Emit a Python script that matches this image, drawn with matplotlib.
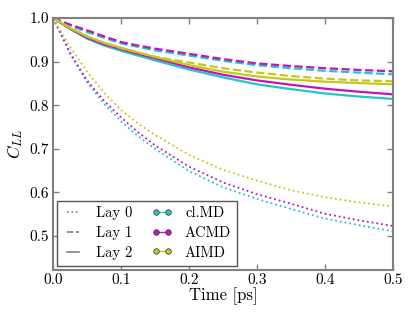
import matplotlib
matplotlib.use("Agg")

import matplotlib.pyplot as plt
from matplotlib.lines import Line2D

plt.rcParams["font.family"] = ["cmr10", "DejaVu Serif"]
plt.rcParams["mathtext.fontset"] = "cm"
plt.rcParams["axes.formatter.use_mathtext"] = True

# time grid [ps]
time = [0.0, 0.025, 0.05, 0.075, 0.1, 0.125, 0.15, 0.2, 0.25, 0.3, 0.35, 0.4, 0.45, 0.5]

# Lay 0 (dotted)
clmd_lay0 = [1.0, 0.918, 0.852, 0.803, 0.763, 0.729, 0.700, 0.649, 0.612, 0.585, 0.562, 0.540, 0.525, 0.511]
acmd_lay0 = [1.0, 0.920, 0.857, 0.810, 0.772, 0.738, 0.708, 0.659, 0.623, 0.596, 0.574, 0.551, 0.536, 0.523]
aimd_lay0 = [1.0, 0.934, 0.877, 0.829, 0.789, 0.758, 0.732, 0.686, 0.652, 0.627, 0.605, 0.589, 0.577, 0.568]

# Lay 1 (dashed)
clmd_lay1 = [1.0, 0.983, 0.968, 0.955, 0.942, 0.934, 0.926, 0.914, 0.902, 0.892, 0.885, 0.879, 0.875, 0.871]
acmd_lay1 = [1.0, 0.985, 0.972, 0.958, 0.945, 0.937, 0.930, 0.918, 0.906, 0.896, 0.890, 0.885, 0.881, 0.878]
aimd_lay1 = [1.0, 0.978, 0.958, 0.943, 0.931, 0.921, 0.911, 0.898, 0.885, 0.875, 0.867, 0.861, 0.857, 0.855]

# Lay 2 (solid)
clmd_lay2 = [1.0, 0.975, 0.953, 0.937, 0.925, 0.914, 0.903, 0.882, 0.864, 0.848, 0.837, 0.827, 0.820, 0.8145]
acmd_lay2 = [1.0, 0.976, 0.955, 0.940, 0.929, 0.918, 0.908, 0.887, 0.870, 0.857, 0.847, 0.838, 0.831, 0.825]
aimd_lay2 = [1.0, 0.977, 0.958, 0.943, 0.932, 0.921, 0.911, 0.892, 0.877, 0.866, 0.859, 0.854, 0.851, 0.848]

METHOD_COLOR = {"cl.MD": "#22c6c6", "ACMD": "#c014c0", "AIMD": "#c6c61e"}
LAYER_STYLE = {"Lay 0": ":", "Lay 1": "--", "Lay 2": "-"}
LAYER_WIDTH = {"Lay 0": 1.3, "Lay 1": 1.6, "Lay 2": 1.6}

series = {
    "cl.MD": [clmd_lay0, clmd_lay1, clmd_lay2],
    "ACMD": [acmd_lay0, acmd_lay1, acmd_lay2],
    "AIMD": [aimd_lay0, aimd_lay1, aimd_lay2],
}

fig = plt.figure(figsize=(4.15, 3.12), dpi=100)
ax = fig.add_axes([0.128, 0.136, 0.819, 0.806])

for method, layers in series.items():
    for (layer, style), values in zip(LAYER_STYLE.items(), layers):
        ax.plot(time, values, linestyle=style, color=METHOD_COLOR[method],
                lw=LAYER_WIDTH[layer])

ax.set_xlim(0.0, 0.5)
ax.set_ylim(0.423, 1.0)
ax.set_xticks([0.0, 0.1, 0.2, 0.3, 0.4, 0.5])
ax.set_yticks([0.5, 0.6, 0.7, 0.8, 0.9, 1.0])
ax.set_xticklabels(["0.0", "0.1", "0.2", "0.3", "0.4", "0.5"])
ax.set_yticklabels(["0.5", "0.6", "0.7", "0.8", "0.9", "1.0"])
ax.set_xlabel("Time [ps]", fontsize=12, labelpad=0)
ax.set_ylabel("$C_{LL}$", fontsize=12.5, labelpad=3)

for spine in ax.spines.values():
    spine.set_color("#808080")
    spine.set_linewidth(1.5)
ax.tick_params(direction="in", top=True, right=True, length=4, width=1,
               color="#808080", labelsize=11, pad=3)

handles = []
labels = []
for layer, style in LAYER_STYLE.items():
    handles.append(Line2D([], [], linestyle=style, color="#808080", lw=1.2))
    labels.append(layer)
for method, col in METHOD_COLOR.items():
    handles.append(Line2D([], [], linestyle="-", color=col, lw=1.0, marker="o",
                          markersize=4, markerfacecolor=col, markeredgecolor="#333333",
                          markeredgewidth=0.5))
    labels.append(method)

leg = ax.legend(handles, labels, loc="lower left", ncol=2, fontsize=10.5,
                numpoints=2, fancybox=False, framealpha=1.0,
                handlelength=1.4, handletextpad=0.9, columnspacing=1.3,
                labelspacing=0.4, borderpad=0.4, borderaxespad=0.25)
leg.get_frame().set_edgecolor("#555555")
leg.get_frame().set_linewidth(1.0)

fig.savefig("out.png", dpi=100)
